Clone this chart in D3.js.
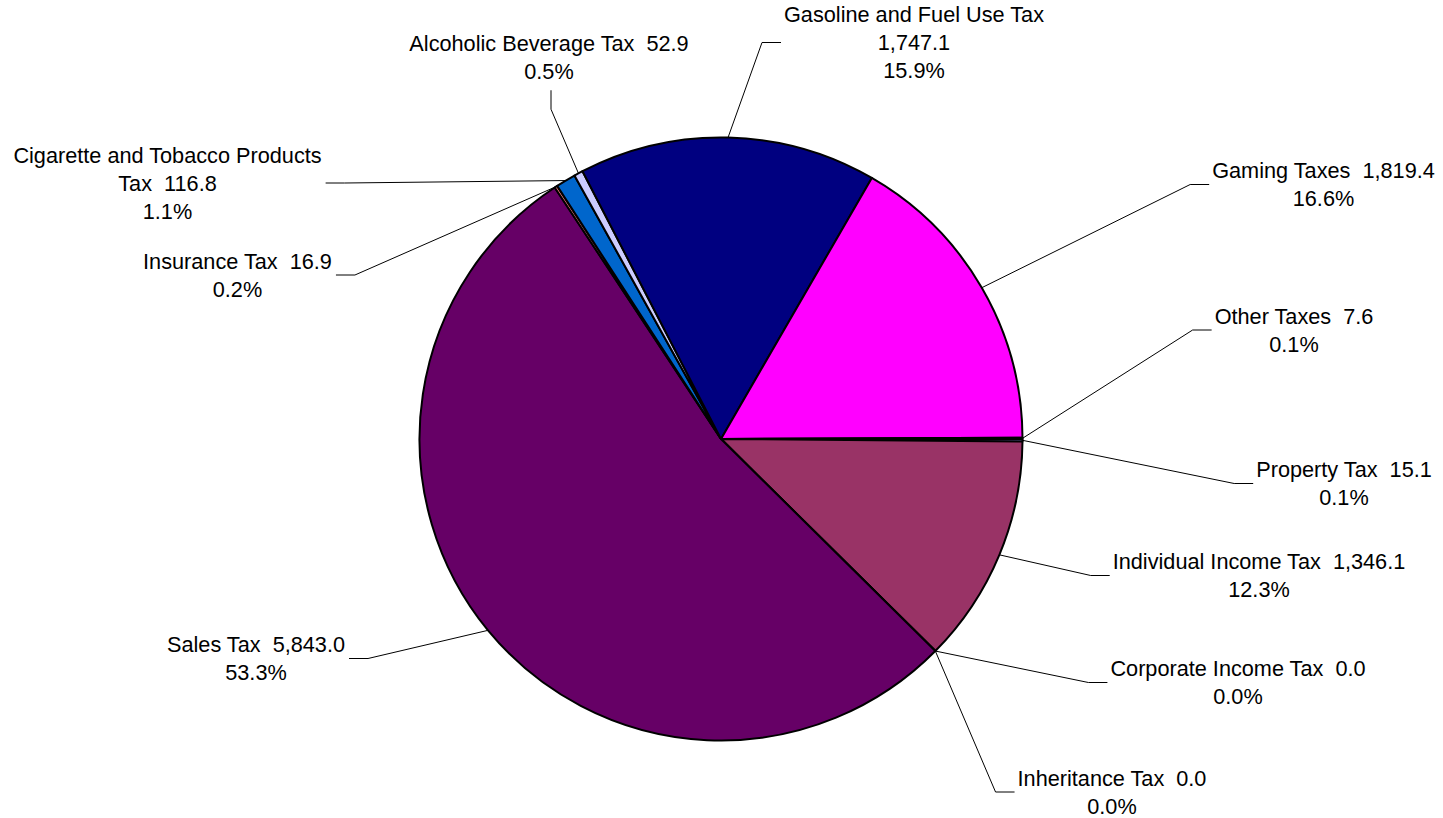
<!DOCTYPE html>
<html>
<head>
<meta charset="utf-8">
<script src="https://cdn.jsdelivr.net/npm/d3@7"></script>
<style>
  html, body { margin: 0; padding: 0; background: #fff; }
  svg { display: block; }
  text { font-family: "Liberation Sans", Arial, sans-serif; font-size: 21.7px; fill: #000; }
</style>
</head>
<body>
<svg id="chart" width="1443" height="818"></svg>
<script>
// ---- data ----
const categories = [
  "Property Tax", "Individual Income Tax", "Corporate Income Tax", "Inheritance Tax",
  "Sales Tax", "Insurance Tax", "Cigarette and Tobacco Products Tax",
  "Alcoholic Beverage Tax", "Gasoline and Fuel Use Tax", "Gaming Taxes", "Other Taxes"
];
const values = [15.1, 1346.1, 0.0, 0.0, 5843.0, 16.9, 116.8, 52.9, 1747.1, 1819.4, 7.6];
const colors = ["#9999FF", "#993366", "#FFFFCC", "#CCFFFF", "#660066", "#FF8080",
                "#0066CC", "#CCCCFF", "#000080", "#FF00FF", "#FFFF00"];

// ---- label layout (positions only) ----
// cx, cy: centre of label block; side: where the leader line meets the block;
// wrap: number of words on the first line when the name+value line wraps
const labelLayout = [
  {cx: 1344,  cy: 483.5, side: "left"},
  {cx: 1259,  cy: 575.5, side: "left"},
  {cx: 1238,  cy: 682.5, side: "left"},
  {cx: 1112,  cy: 792,   side: "left"},
  {cx: 256,   cy: 658.5, side: "right"},
  {cx: 237.5, cy: 275,   side: "right"},
  {cx: 167.5, cy: 183,   side: "right", wrap: 4},
  {cx: 549,   cy: 57.5,  side: "bottom"},
  {cx: 914,   cy: 42.5,  side: "left", wrap: 5},
  {cx: 1323.5,cy: 184.5, side: "left"},
  {cx: 1294,  cy: 330,   side: "left"}
];

const W = 1443, H = 818;
const center = {x: 721, y: 439};
const R = 301.5;
const lineGap = 28;
const capH = 15.5;

const svg = d3.select("#chart");
const total = d3.sum(values);
const fmtVal = d3.format(",.1f");
const fmtPct = d3.format(".1%");

const data = categories.map((c, i) => ({name: c, value: values[i], color: colors[i], layout: labelLayout[i]}));

const pie = d3.pie().sort(null).value(d => d.value)
  .startAngle(Math.PI / 2).endAngle(Math.PI / 2 + 2 * Math.PI);
const arcs = pie(data);

const arc = d3.arc().innerRadius(0).outerRadius(R);
const edgeArc = d3.arc().innerRadius(R).outerRadius(R);

const g = svg.append("g").attr("transform", `translate(${center.x},${center.y})`);

g.selectAll("path.slice").data(arcs).join("path")
  .attr("class", "slice")
  .attr("d", arc)
  .attr("fill", d => d.data.color)
  .attr("stroke", "#000")
  .attr("stroke-width", 2)
  .attr("stroke-linejoin", "round");

// labels
const labels = svg.append("g");
arcs.forEach(a => {
  const d = a.data, L = d.layout;
  const valStr = fmtVal(d.value);
  const pctStr = fmtPct(d.value / total);
  let lines;
  const words = d.name.split(" ");
  if (L.wrap) {
    const first = words.slice(0, L.wrap).join(" ");
    const rest = words.slice(L.wrap);
    const second = rest.length ? rest.join(" ") + "\u00a0\u00a0" + valStr : valStr;
    lines = [first, second, pctStr];
  } else {
    lines = [d.name + "\u00a0\u00a0" + valStr, pctStr];
  }
  const n = lines.length;
  const firstBase = L.cy - (n - 1) * lineGap / 2 + capH / 2;
  const t = labels.append("text").attr("text-anchor", "middle");
  lines.forEach((ln, i) => {
    t.append("tspan").attr("x", L.cx).attr("y", firstBase + i * lineGap).text(ln);
  });
  let maxW = 0;
  t.selectAll("tspan").each(function() { maxW = Math.max(maxW, this.getComputedTextLength()); });

  const [sx, sy] = edgeArc.centroid(a);
  const start = [center.x + sx, center.y + sy];
  let end, elbow;
  if (L.side === "left") {
    end = [L.cx - maxW / 2 - 3, L.cy];
    elbow = [end[0] - 19, L.cy];
  } else if (L.side === "right") {
    end = [L.cx + maxW / 2 + 4, L.cy];
    elbow = [end[0] + 19, L.cy];
  } else {
    const lastBase = firstBase + (n - 1) * lineGap;
    end = [L.cx + 2, lastBase + 11];
    elbow = [end[0], end[1] + 19];
  }
  labels.append("path")
    .attr("d", d3.line()([start, elbow, end]))
    .attr("fill", "none")
    .attr("stroke", "#000")
    .attr("stroke-width", 1);
});
</script>
</body>
</html>
